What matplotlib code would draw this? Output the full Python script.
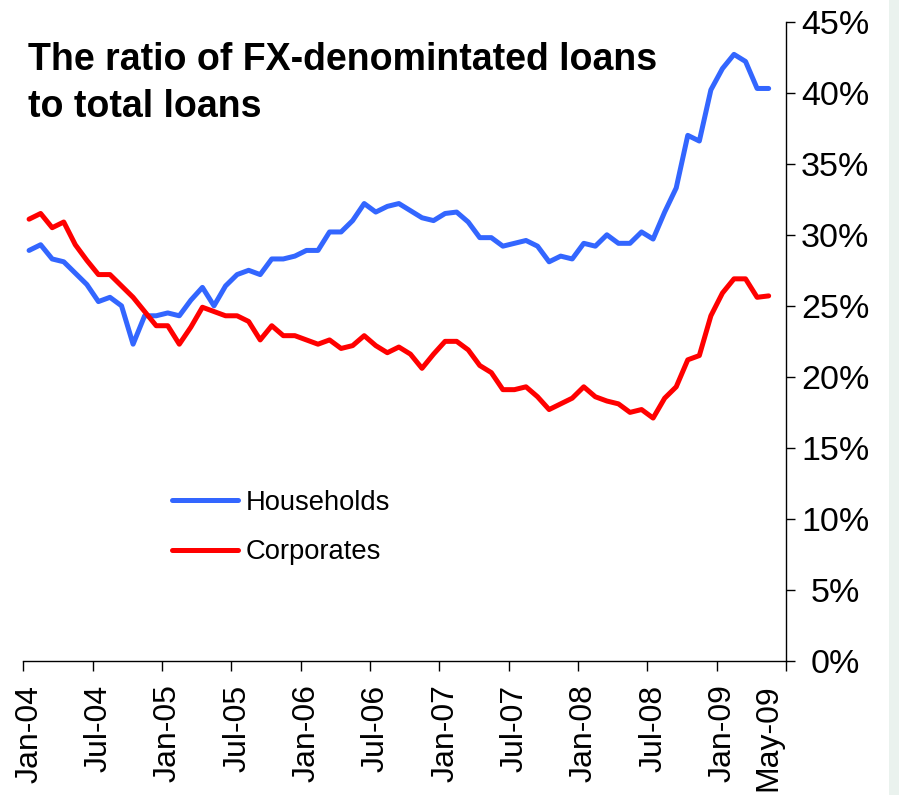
import matplotlib
matplotlib.use("Agg")
import matplotlib.pyplot as plt
from matplotlib.patches import Rectangle
import numpy as np
import pandas as pd

plt.rcParams['font.family'] = ['Liberation Sans', 'DejaVu Sans']

# ---- data -------------------------------------------------------------
months = pd.date_range("2004-01-01", periods=65, freq="MS").strftime("%b-%y").tolist()

households = [28.9, 29.3, 28.3, 28.1, 27.3, 26.5, 25.3, 25.6, 25.0, 22.3,
              24.3, 24.3, 24.5, 24.3, 25.4, 26.3, 25.0, 26.4, 27.2, 27.5,
              27.2, 28.3, 28.3, 28.5, 28.9, 28.9, 30.2, 30.2, 31.0, 32.2,
              31.6, 32.0, 32.2, 31.7, 31.2, 31.0, 31.5, 31.6, 30.9, 29.8,
              29.8, 29.2, 29.4, 29.6, 29.2, 28.1, 28.5, 28.3, 29.4, 29.2,
              30.0, 29.4, 29.4, 30.2, 29.7, 31.6, 33.3, 37.0, 36.6, 40.2,
              41.7, 42.7, 42.2, 40.3, 40.3]

corporates = [31.1, 31.5, 30.5, 30.9, 29.3, 28.2, 27.2, 27.2, 26.4, 25.6,
              24.6, 23.6, 23.6, 22.3, 23.5, 24.9, 24.6, 24.3, 24.3, 23.9,
              22.6, 23.6, 22.9, 22.9, 22.6, 22.3, 22.6, 22.0, 22.2, 22.9,
              22.2, 21.7, 22.1, 21.6, 20.6, 21.6, 22.5, 22.5, 21.9, 20.8,
              20.3, 19.1, 19.1, 19.3, 18.6, 17.7, 18.1, 18.5, 19.3, 18.6,
              18.3, 18.1, 17.5, 17.7, 17.1, 18.5, 19.3, 21.2, 21.5, 24.3,
              25.9, 26.9, 26.9, 25.6, 25.7]

tick_labels = ["Jan-04", "Jul-04", "Jan-05", "Jul-05", "Jan-06", "Jul-06",
               "Jan-07", "Jul-07", "Jan-08", "Jul-08", "Jan-09", "May-09"]
y_ticks = [0, 5, 10, 15, 20, 25, 30, 35, 40, 45]

title = "The ratio of FX-denomintated loans\nto total loans"
series_names = ["Households", "Corporates"]
colors = ["#3366FF", "#FF0000"]

# ---- figure -------------------------------------------------------------
W, H = 899, 795
fig = plt.figure(figsize=(W / 100, H / 100), dpi=100)
fig.patch.set_facecolor("white")
fig.patches.append(Rectangle((889 / W, 0), 1 - 889 / W, 1, transform=fig.transFigure,
                             facecolor="#EAF2EE", edgecolor="none", zorder=-10))

ax = fig.add_axes([23.3 / W, 1 - 661 / H, (786 - 23.3) / W, (661 - 21.7) / H])
x = np.arange(len(months))
ax.plot(x, households, color=colors[0], lw=3.6, solid_joinstyle="round",
        solid_capstyle="round", label=series_names[0])
ax.plot(x, corporates, color=colors[1], lw=3.6, solid_joinstyle="round",
        solid_capstyle="round", label=series_names[1])

ax.set_xlim(-0.5, len(months) + 0.5)
ax.set_ylim(0, 45)

for s in ["left", "top"]:
    ax.spines[s].set_visible(False)
for s in ["bottom", "right"]:
    ax.spines[s].set_color("black")
    ax.spines[s].set_linewidth(1.0)

# y axis on the right
ax.yaxis.tick_right()
ax.set_yticks(y_ticks)
ax.set_yticklabels([f"{v}%" for v in y_ticks])
ax.tick_params(axis="y", direction="out", length=6.5, width=1.0, pad=29,
               labelsize=24.5, colors="black")
for lab in ax.get_yticklabels():
    lab.set_horizontalalignment("center")

# x axis: labels at month positions, tick marks at boundaries
pos = [months.index(t) for t in tick_labels]
ax.set_xticks(pos)
ax.set_xticklabels(tick_labels, rotation=90, va="top", ha="center")
ax.tick_params(axis="x", which="major", length=0, pad=17, labelsize=23)
minor = list(np.arange(-0.5, len(months), 6)) + [len(months) + 0.5]
ax.set_xticks(minor, minor=True)
ax.tick_params(axis="x", which="minor", direction="out", length=7.2, width=1.0)

# title
fig.text(28 / W, 1 - 42 / H, title, fontsize=27, fontweight="bold",
         ha="left", va="top", linespacing=1.38)

# legend
leg = ax.legend(loc="upper left", bbox_to_anchor=(172 / W, 1 - 490 / H),
                bbox_transform=fig.transFigure, frameon=False, fontsize=19.7,
                handlelength=2.4, handletextpad=0.3, labelspacing=0.85,
                borderpad=0, borderaxespad=0)

fig.savefig("out.png", dpi=100)
